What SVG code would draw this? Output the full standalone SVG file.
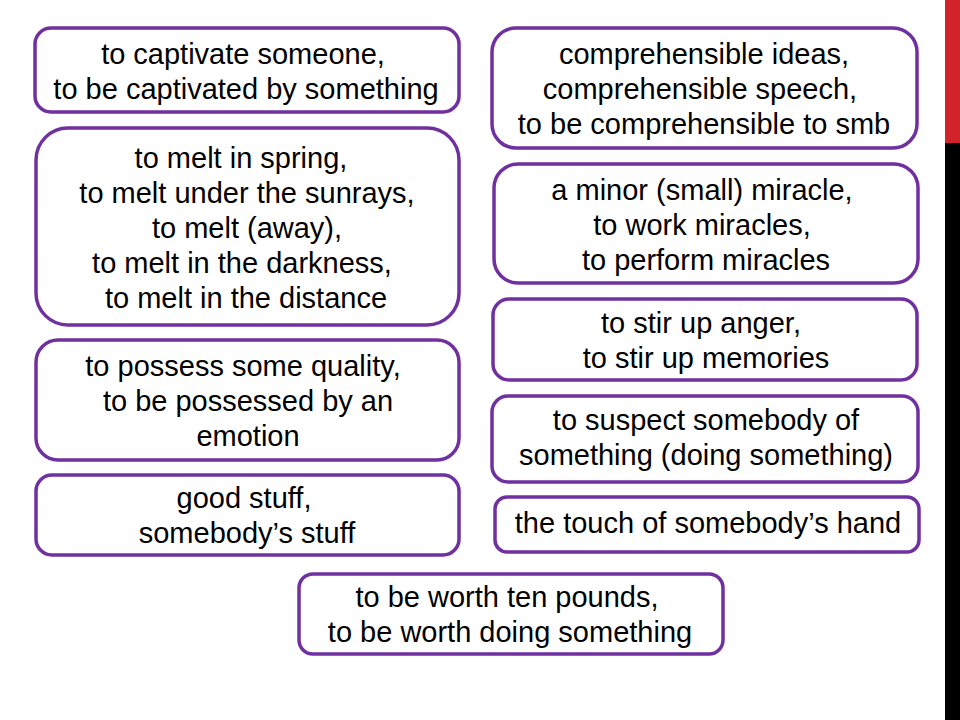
<svg xmlns="http://www.w3.org/2000/svg" width="960" height="720" viewBox="0 0 960 720">
<style>
.box{fill:#ffffff;stroke:#7030A0;stroke-width:3.5}
.t{font-family:"Liberation Sans",Arial,sans-serif;font-size:29px;fill:#000000;text-anchor:middle}
</style>
<rect width="960" height="720" fill="#ffffff"/>
<rect x="945" y="0" width="15" height="143" fill="#D2232A"/>
<rect x="945" y="143" width="15" height="577" fill="#000000"/>
<g id="connectors"></g>
<g id="n1"><rect class="box" x="35" y="28" width="424" height="84" rx="16"/>
<text class="t"><tspan x="243" y="64">to captivate someone,</tspan><tspan x="246" y="99">to be captivated by something</tspan></text></g>
<g id="n2"><rect class="box" x="36" y="128" width="423" height="197" rx="32"/>
<text class="t"><tspan x="241" y="168">to melt in spring,</tspan><tspan x="247" y="203">to melt under the sunrays,</tspan><tspan x="247" y="238">to melt (away),</tspan><tspan x="242" y="273">to melt in the darkness,</tspan><tspan x="246" y="308">to melt in the distance</tspan></text></g>
<g id="n3"><rect class="box" x="36" y="340" width="423" height="120" rx="22"/>
<text class="t"><tspan x="243" y="376">to possess some quality,</tspan><tspan x="248" y="411">to be possessed by an</tspan><tspan x="248" y="446">emotion</tspan></text></g>
<g id="n4"><rect class="box" x="36" y="475" width="423" height="80" rx="16"/>
<text class="t"><tspan x="244" y="508">good stuff,</tspan><tspan x="247" y="543">somebody’s stuff</tspan></text></g>
<g id="n5"><rect class="box" x="492" y="28" width="425" height="120" rx="24"/>
<text class="t"><tspan x="704" y="64">comprehensible ideas,</tspan><tspan x="700" y="99">comprehensible speech,</tspan><tspan x="704" y="134">to be comprehensible to smb</tspan></text></g>
<g id="n6"><rect class="box" x="494" y="164" width="424" height="119" rx="24"/>
<text class="t"><tspan x="702" y="200">a minor (small) miracle,</tspan><tspan x="702" y="235">to work miracles,</tspan><tspan x="706" y="270">to perform miracles</tspan></text></g>
<g id="n7"><rect class="box" x="493" y="299" width="424" height="81" rx="16"/>
<text class="t"><tspan x="701" y="333">to stir up anger,</tspan><tspan x="706" y="368">to stir up memories</tspan></text></g>
<g id="n8"><rect class="box" x="492" y="396" width="426" height="86" rx="16"/>
<text class="t"><tspan x="706" y="430">to suspect somebody of</tspan><tspan x="706" y="465">something (doing something)</tspan></text></g>
<g id="n9"><rect class="box" x="495" y="497" width="424" height="55" rx="12"/>
<text class="t"><tspan x="708" y="533">the touch of somebody’s hand</tspan></text></g>
<g id="n10"><rect class="box" x="299" y="574" width="424" height="80" rx="14"/>
<text class="t"><tspan x="507" y="607">to be worth ten pounds,</tspan><tspan x="510" y="642">to be worth doing something</tspan></text></g>
</svg>
